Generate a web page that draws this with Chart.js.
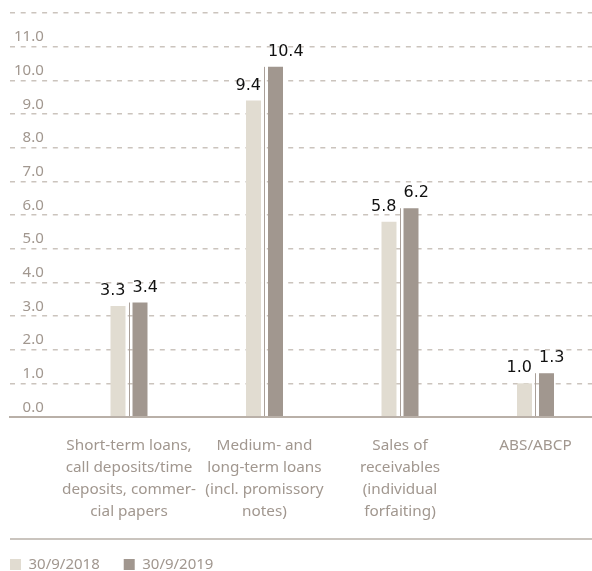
<!DOCTYPE html>
<html><head><meta charset="utf-8">
<script src="https://cdn.jsdelivr.net/npm/chart.js@4"></script>
<style>html,body{margin:0;padding:0;background:#fff}#wrap{width:592px;height:571px;position:relative}</style>
</head><body><div id="wrap"><canvas id="c"></canvas></div>
<script>
const categories = [
  ["Short-term loans,", "call deposits/time", "deposits, commer-", "cial papers"],
  ["Medium- and", "long-term loans", "(incl. promissory", "notes)"],
  ["Sales of", "receivables", "(individual", "forfaiting)"],
  ["ABS/ABCP"]
];
const seriesLabels = ["30/9/2018", "30/9/2019"];
const values2018 = [3.3, 9.4, 5.8, 1.0];
const values2019 = [3.4, 10.4, 6.2, 1.3];
const yMin = 0, yMax = 12, yStep = 1, yLabelMax = 11;

const LIGHT = '#e1dcd1', DARK = '#a1978f', GRAY = '#a1978f', GRID = '#cbc4bd', AXIS = '#b9b0a8', DIVIDER = '#aaa099';
const FONT = '"Noto Sans", sans-serif';
const LEG_PAD = 24;

const barExtras = {
  id: 'barExtras',
  afterDatasetsDraw(chart) {
    const ctx = chart.ctx;
    const m0 = chart.getDatasetMeta(0), m1 = chart.getDatasetMeta(1);
    ctx.save();
    m1.data.forEach((bar, i) => {
      const a = m0.data[i];
      const x = Math.round((a.x + bar.x) / 2) + 0.5;
      ctx.strokeStyle = DIVIDER; ctx.lineWidth = 1;
      ctx.beginPath(); ctx.moveTo(x, bar.y); ctx.lineTo(x, bar.base); ctx.stroke();
    });
    ctx.font = '16px "DejaVu Sans"'; ctx.fillStyle = '#111'; ctx.textBaseline = 'alphabetic';
    m0.data.forEach((bar, i) => { ctx.textAlign = 'right'; ctx.fillText(values2018[i].toFixed(1), bar.x + bar.width / 2, bar.y - 11); });
    m1.data.forEach((bar, i) => { ctx.textAlign = 'left'; ctx.fillText(values2019[i].toFixed(1), bar.x - bar.width / 2, bar.y - 11); });
    ctx.restore();
  },
  afterDraw(chart) {
    const ctx = chart.ctx; const y = chart.legend.top + 6;
    ctx.save(); ctx.strokeStyle = AXIS; ctx.lineWidth = 1.5;
    ctx.beginPath(); ctx.moveTo(10, y); ctx.lineTo(chart.width, y); ctx.stroke(); ctx.restore();
  }
};

new Chart(document.getElementById('c'), {
  type: 'bar',
  data: {
    datasets: [
      { label: seriesLabels[0], data: values2018.map((v, i) => ({ x: i, y: v })), backgroundColor: LIGHT, borderWidth: 0 },
      { label: seriesLabels[1], data: values2019.map((v, i) => ({ x: i, y: v })), backgroundColor: DARK, borderWidth: 0 }
    ]
  },
  options: {
    responsive: true, maintainAspectRatio: false, animation: false, devicePixelRatio: 1,
    categoryPercentage: 44 / 135.5, barPercentage: 15 / 22,
    layout: { padding: { left: 10 - LEG_PAD, right: 0, top: 9.5, bottom: -11 } },
    plugins: {
      legend: { position: 'bottom', align: 'start',
        labels: { boxWidth: 11, boxHeight: 11, padding: LEG_PAD, color: GRAY, font: { family: FONT, size: 15 } } },
      tooltip: { enabled: false }
    },
    scales: {
      x: {
        type: 'linear', min: -0.8782, max: 3.417, offset: false,
        afterBuildTicks: s => { s.ticks = categories.map((_, i) => ({ value: i })); },
        afterFit: s => { s.height = 116; },
        grid: { display: false, drawTicks: false, offset: false },
        border: { display: true, color: AXIS, width: 2, z: 1 },
        ticks: { color: GRAY, font: { family: FONT, size: 15.3, lineHeight: '22px' }, padding: 18,
          maxRotation: 0, autoSkip: false, callback: v => categories[v] }
      },
      y: {
        type: 'linear', position: 'left', min: yMin, max: yMax,
        afterFit: s => { s.width = LEG_PAD; },
        grid: { drawTicks: false, lineWidth: 1.5, color: c => (c.tick && c.tick.value === 0) ? 'rgba(0,0,0,0)' : GRID },
        border: { display: false, dash: [5, 5.7] },
        ticks: { stepSize: yStep, mirror: true, crossAlign: 'far', padding: 4, labelOffset: -9.5, color: GRAY,
          font: { family: FONT, size: 15 }, callback: v => v > yLabelMax ? '' : v.toFixed(1) }
      }
    }
  },
  plugins: [barExtras]
});
</script></body></html>
